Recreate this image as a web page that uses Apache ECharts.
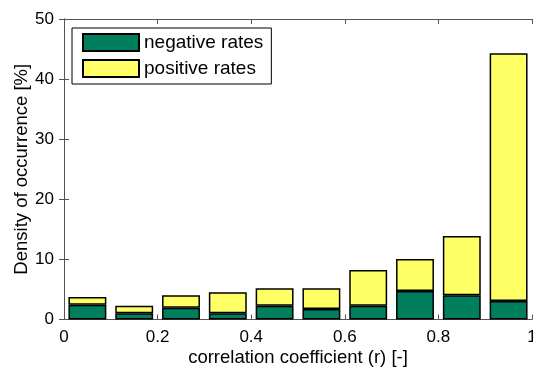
<!DOCTYPE html>
<html><head><meta charset="utf-8">
<script src="https://cdn.jsdelivr.net/npm/echarts@6/dist/echarts.min.js"></script>
<style>html,body{margin:0;padding:0;background:#fff}#c{width:533px;height:371px}</style>
</head><body><div id="c"></div>
<script>
var bins = ['0.05','0.15','0.25','0.35','0.45','0.55','0.65','0.75','0.85','0.95'];
var negativeRates = [2.45, 1.03, 1.97, 1.03, 2.3, 1.75, 2.3, 4.74, 4.03, 3.08];
var totalRates = [3.74, 2.3, 4.03, 4.52, 5.19, 5.19, 8.24, 10.07, 13.9, 44.3];
var positiveRates = totalRates.map(function(t,i){return +(t - negativeRates[i]).toFixed(2);});
var xTicks = [0, 0.2, 0.4, 0.6, 0.8, 1];
var yTicks = [0, 10, 20, 30, 40, 50];

var font = 'Liberation Sans, Arial, sans-serif';
var axisCol = '#555';
var chart = echarts.init(document.getElementById('c'), null, {renderer:'canvas'});
chart.setOption({
  animation: false,
  backgroundColor: '#fff',
  grid: {left: 64, right: 1, top: 19, bottom: 51.5, containLabel: false, outerBoundsMode: 'none'},
  legend: {
    orient: 'vertical', left: 72, top: 28,
    padding: [5, 8, 6, 10], itemGap: 7,
    itemWidth: 56, itemHeight: 17, icon: 'rect',
    borderColor: '#000', borderWidth: 1, backgroundColor: '#fff',
    textStyle: {fontFamily: font, fontSize: 19, color: '#000', lineHeight: 17},
    data: ['negative rates', 'positive rates']
  },
  xAxis: [
    {type: 'category', data: bins, boundaryGap: true, show: false, gridIndex: 0},
    {type: 'value', min: 0, max: 1, interval: 0.2, position: 'bottom',
     axisLine: {show: true, lineStyle: {color: axisCol, width: 1}},
     axisTick: {show: true, inside: true, length: 5, lineStyle: {color: axisCol}},
     splitLine: {show: false},
     axisLabel: {fontFamily: font, fontSize: 17, color: '#000', margin: 9,
       formatter: function(v){ return xTicks.indexOf(+v.toFixed(1)) >= 0 ? String(+v.toFixed(1)) : ''; }},
     name: 'correlation coefficient (r) [-]', nameLocation: 'middle', nameGap: 29, nameMoveOverlap: false,
     nameTextStyle: {fontFamily: font, fontSize: 18.5, color: '#000'}},
    {type: 'value', min: 0, max: 1, interval: 0.2, position: 'top',
     axisLine: {show: true, lineStyle: {color: axisCol, width: 1}},
     axisTick: {show: true, inside: true, length: 5, lineStyle: {color: axisCol}},
     axisLabel: {show: false}, splitLine: {show: false}}
  ],
  yAxis: [
    {type: 'value', min: 0, max: 50, interval: 10, position: 'left',
     axisLine: {show: true, lineStyle: {color: axisCol, width: 1}},
     axisTick: {show: true, inside: true, length: 5, lineStyle: {color: axisCol}},
     splitLine: {show: false},
     axisLabel: {fontFamily: font, fontSize: 17, color: '#000', margin: 10,
       formatter: function(v){ return yTicks.indexOf(v) >= 0 ? String(v) : ''; }},
     name: 'Density of occurrence [%]', nameLocation: 'middle', nameGap: 33, nameRotate: 90, nameMoveOverlap: false,
     nameTextStyle: {fontFamily: font, fontSize: 18.5, color: '#000'}},
    {type: 'value', min: 0, max: 50, interval: 10, position: 'right',
     axisLine: {show: true, lineStyle: {color: axisCol, width: 1}},
     axisTick: {show: true, inside: true, length: 5, lineStyle: {color: axisCol}},
     axisLabel: {show: false}, splitLine: {show: false}}
  ],
  series: [
    {name: 'negative rates', type: 'bar', stack: 'r', xAxisIndex: 0, yAxisIndex: 0,
     barWidth: '81%', data: negativeRates,
     itemStyle: {color: '#007f5f', borderColor: '#000', borderWidth: 1.5}},
    {name: 'positive rates', type: 'bar', stack: 'r', xAxisIndex: 0, yAxisIndex: 0,
     barWidth: '81%', data: positiveRates,
     itemStyle: {color: '#ffff66', borderColor: '#000', borderWidth: 1.5}}
  ]
});
</script></body></html>
